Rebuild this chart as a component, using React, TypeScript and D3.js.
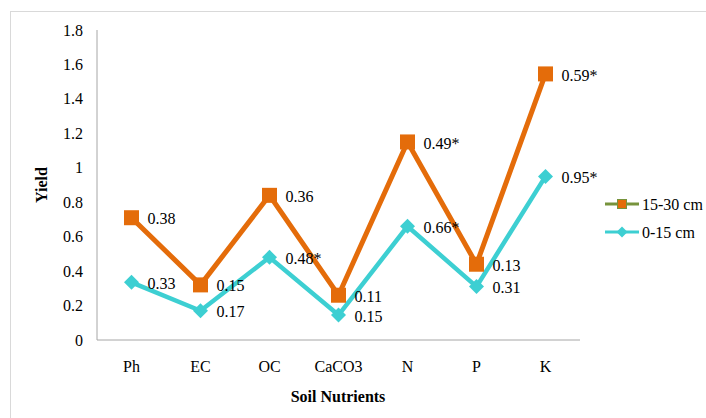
import React from "react";
import * as d3 from "d3";

const categories = ["Ph", "EC", "OC", "CaCO3", "N", "P", "K"];
const deepValues = [0.71, 0.32, 0.84, 0.26, 1.15, 0.44, 1.545];
const shallowValues = [0.335, 0.17, 0.48, 0.145, 0.66, 0.31, 0.95];
const deepLabels = ["0.38", "0.15", "0.36", "0.11", "0.49*", "0.13", "0.59*"];
const shallowLabels = ["0.33", "0.17", "0.48*", "0.15", "0.66*", "0.31", "0.95*"];
const yTicks = [0, 0.2, 0.4, 0.6, 0.8, 1, 1.2, 1.4, 1.6, 1.8];
const seriesNames = ["15-30 cm", "0-15 cm"];

const W = 706;
const H = 418;
const left = 97;
const right = 580;
const top = 30;
const bottom = 340;
const font = "Liberation Serif, Times New Roman, DejaVu Serif, serif";
const orange = "#E46C0A";
const cyan = "#3DCFD2";
const olive = "#77933C";

export default function App() {
  const x = d3.scaleBand().domain(categories).range([left, right]);
  const y = d3.scaleLinear().domain([0, 1.8]).range([bottom, top]);
  const cx = (c: string) => (x(c) as number) + x.bandwidth() / 2;
  const line = d3
    .line<number>()
    .x((_, i) => cx(categories[i]))
    .y((v) => y(v));
  const diamond = (px: number, py: number, r: number) =>
    `M${px},${py - r}L${px + r},${py}L${px},${py + r}L${px - r},${py}Z`;

  return (
    <svg
      width={W}
      height={H}
      style={{ position: "absolute", left: 0, top: 0, background: "#fff", fontFamily: font }}
    >
      <rect x={10.5} y={11.5} width={720} height={420} fill="#fff" stroke="#D9D9D9" strokeWidth={1} />
      {/* axes */}
      <line x1={left} x2={left} y1={top} y2={bottom} stroke="#A6A6A6" strokeWidth={1} />
      <line x1={left} x2={right} y1={bottom} y2={bottom} stroke="#A6A6A6" strokeWidth={1} />
      {yTicks.map((t) => (
        <text key={t} x={83} y={y(t)} dy="0.35em" textAnchor="end" fontSize={16} fill="#000" style={{ fontFamily: font }}>
          {String(t)}
        </text>
      ))}
      {categories.map((c) => (
        <text key={c} x={cx(c)} y={366} dy="0.35em" textAnchor="middle" fontSize={16} fill="#000" style={{ fontFamily: font }}>
          {c}
        </text>
      ))}
      <text x={338} y={396} dy="0.35em" textAnchor="middle" fontSize={16} fontWeight="bold" style={{ fontFamily: font }}>
        Soil Nutrients
      </text>
      <text
        transform={`translate(41,${185}) rotate(-90)`}
        textAnchor="middle"
        dy="0.35em"
        fontSize={16}
        fontWeight="bold"
        style={{ fontFamily: font }}
      >
        Yield
      </text>
      {/* series */}
      <path d={line(deepValues) || ""} fill="none" stroke={orange} strokeWidth={5} strokeLinejoin="miter" />
      <path d={line(shallowValues) || ""} fill="none" stroke={cyan} strokeWidth={4.5} strokeLinejoin="miter" />
      {deepValues.map((v, i) => (
        <rect key={i} x={cx(categories[i]) - 7.5} y={y(v) - 7.5} width={15} height={15} fill={orange} />
      ))}
      {shallowValues.map((v, i) => (
        <path key={i} d={diamond(cx(categories[i]), y(v), 7.5)} fill={cyan} />
      ))}
      {deepValues.map((v, i) => (
        <text key={i} x={cx(categories[i]) + 16} y={y(v) + 1} dy="0.35em" fontSize={16} style={{ fontFamily: font }}>
          {deepLabels[i]}
        </text>
      ))}
      {shallowValues.map((v, i) => (
        <text key={i} x={cx(categories[i]) + 16} y={y(v) + 1} dy="0.35em" fontSize={16} style={{ fontFamily: font }}>
          {shallowLabels[i]}
        </text>
      ))}
      {/* legend */}
      <g>
        <line x1={605} x2={639} y1={204} y2={204} stroke={olive} strokeWidth={3} />
        <rect x={617.5} y={199.5} width={9} height={9} fill={orange} stroke={olive} strokeWidth={1} />
        <text x={642} y={204} dy="0.35em" fontSize={16} style={{ fontFamily: font }}>
          {seriesNames[0]}
        </text>
        <line x1={605} x2={639} y1={232} y2={232} stroke={cyan} strokeWidth={3} />
        <path d={diamond(622, 232, 5.5)} fill={cyan} />
        <text x={642} y={232} dy="0.35em" fontSize={16} style={{ fontFamily: font }}>
          {seriesNames[1]}
        </text>
      </g>
    </svg>
  );
}
